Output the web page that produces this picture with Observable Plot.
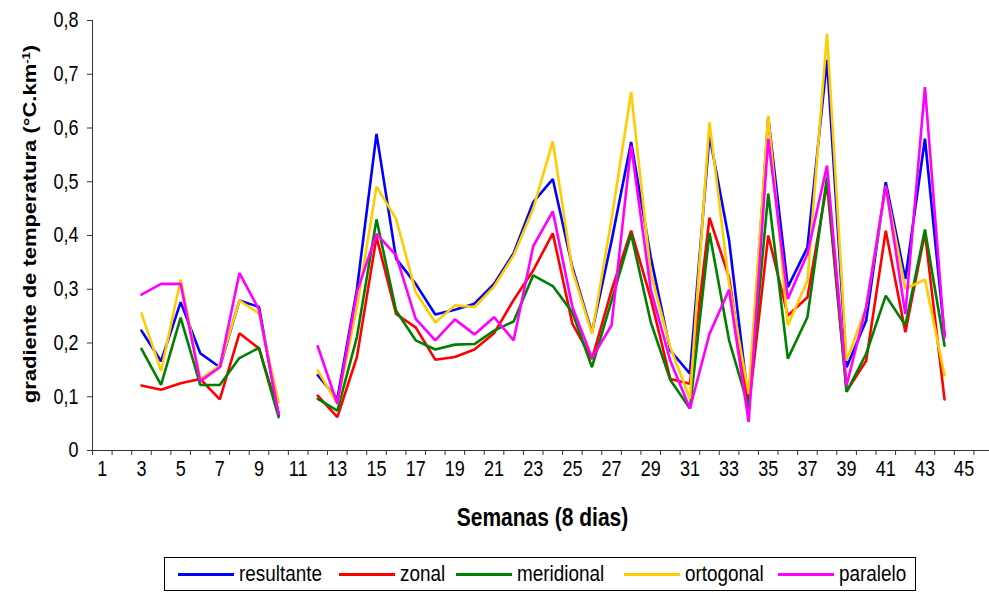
<!DOCTYPE html>
<html><head><meta charset="utf-8">
<script src="https://cdn.jsdelivr.net/npm/d3@7"></script>
<script src="https://cdn.jsdelivr.net/npm/@observablehq/plot@0.6"></script>
<style>
html,body{margin:0;padding:0;background:#fff;}
#wrap{position:relative;width:989px;height:592px;overflow:hidden;background:#fff;}
#legend{position:absolute;left:164px;top:557px;width:750px;height:32px;border:1px solid #000;box-sizing:content-box;color:#000;}
.item{display:flex;align-items:center;white-space:nowrap;}
.sw{width:56px;height:3px;margin-right:5px;}
.lt{display:inline-block;transform:scaleY(1.2);transform-origin:50% 55%;}
</style></head><body><div id="wrap"><div id="chart"></div><div id="legend"></div></div>
<script>
// ---- data ----
const weeks = [3,4,5,6,7,8,9,10,11,12,13,14,15,16,17,18,19,20,21,22,23,24,25,26,27,28,29,30,31,32,33,34,35,36,37,38,39,40,41,42,43,44];
const resultante = [0.223,0.166,0.276,0.181,0.155,0.279,0.267,0.065,null,0.140,0.096,0.300,0.589,0.357,0.310,0.253,0.262,0.273,0.310,0.367,0.462,0.505,0.341,0.220,0.390,0.574,0.360,0.186,0.143,0.586,0.391,0.087,0.620,0.304,0.378,0.727,0.155,0.242,0.499,0.319,0.580,0.215];
const zonal = [0.121,0.113,0.125,0.133,0.095,0.218,0.190,0.070,null,0.102,0.062,0.174,0.397,0.254,0.229,0.169,0.174,0.188,0.218,0.280,0.335,0.404,0.236,0.170,0.298,0.409,0.283,0.133,0.124,0.433,0.322,0.078,0.400,0.251,0.285,0.496,0.110,0.167,0.409,0.220,0.405,0.095];
const meridional = [0.189,0.122,0.247,0.122,0.122,0.172,0.191,0.062,null,0.096,0.074,0.211,0.430,0.260,0.205,0.188,0.197,0.198,0.223,0.240,0.326,0.306,0.257,0.155,0.279,0.403,0.239,0.131,0.078,0.405,0.205,0.080,0.478,0.171,0.248,0.509,0.109,0.180,0.288,0.233,0.411,0.195];
const ortogonal = [0.255,0.148,0.318,0.133,0.158,0.279,0.255,0.090,null,0.149,0.087,0.267,0.491,0.431,0.295,0.238,0.270,0.267,0.305,0.363,0.450,0.575,0.335,0.217,0.430,0.667,0.330,0.192,0.096,0.611,0.310,0.105,0.623,0.233,0.316,0.775,0.167,0.267,0.490,0.301,0.318,0.140];
const paralelo = [0.290,0.310,0.310,0.129,0.155,0.330,0.262,0.068,null,0.194,0.087,0.295,0.403,0.363,0.245,0.205,0.244,0.216,0.248,0.205,0.380,0.445,0.267,0.172,0.233,0.567,0.300,0.167,0.078,0.217,0.299,0.053,0.580,0.282,0.366,0.530,0.121,0.267,0.493,0.254,0.676,0.210];
const seriesNames = ["resultante","zonal","meridional","ortogonal","paralelo"];
const seriesColors = ["#0000FF","#FF0000","#008000","#FFCC00","#FF00FF"];
const yTicks = [0,0.1,0.2,0.3,0.4,0.5,0.6,0.7,0.8];
const xLabels = [1,3,5,7,9,11,13,15,17,19,21,23,25,27,29,31,33,35,37,39,41,43,45];
const xTitle = "Semanas (8 dias)";
const yTitle = "gradiente de temperatura (°C.km";

const FF = "'Liberation Sans', Arial, sans-serif";
const SY = 1.2; // vertical stretch of the reference lettering
const tickFS = 18, legFS = 18.9, titleFS = 21, yTitleFS = 18.3;

const dataBy = {resultante, zonal, meridional, ortogonal, paralelo};
const rows = s => weeks.map((w,i)=>({week:w, value:dataBy[s][i]}));
const fmt = d => d===0 ? "0" : d3.format(".1f")(d).replace(".", ",");
const xTickPos = d3.range(0.5, 47, 1);

const svg = Plot.plot({
  width: 989, height: 552,
  marginLeft: 92, marginRight: 0, marginTop: 20, marginBottom: 102,
  x: {type: "linear", domain: [0.5, 46.5], range: [92, 993]},
  y: {type: "linear", domain: [0, 0.8], range: [450, 20]},
  style: {fontFamily: FF, fontSize: tickFS + "px", color: "#000", background: "#fff", overflow: "hidden"},
  marks: [
    Plot.axisY({ticks: yTicks, tickSize: 5, tickPadding: 9, tickFormat: fmt, label: null, stroke: "#333", fill: "#000", fontSize: tickFS}),
    Plot.axisX({ticks: xTickPos, tickSize: 5, tickFormat: () => "", label: null, stroke: "#333"}),
    Plot.axisX({ticks: xLabels, tickSize: 0, tickPadding: 10, tickFormat: d => String(d), label: null, fill: "#000", fontSize: tickFS}),
    Plot.ruleY([0], {x1: 0.5, x2: 46.5, stroke: "#333"}),
    Plot.ruleX([0.5], {y1: 0, y2: 0.8, stroke: "#333"}),
    ...seriesNames.map((s, i) => Plot.lineY(rows(s), {x: "week", y: "value", stroke: seriesColors[i], strokeWidth: 2.6, strokeLinejoin: "miter", curve: "linear"}))
  ]
});
document.getElementById("chart").appendChild(svg);

const sel = d3.select(svg);
// stretch tick labels vertically like the reference lettering
sel.selectAll("g[aria-label$='tick label'] text").each(function() {
  const t = this.getAttribute("transform") || "";
  this.setAttribute("transform", t + ` scale(1,${SY})`);
  if (this.getAttribute("dy") === "0.32em") this.setAttribute("dy", "0.36em");
});

sel.append("text")
  .attr("transform", `translate(542.5,526) scale(1,${SY})`)
  .attr("text-anchor", "middle")
  .attr("font-family", FF).attr("font-weight", "bold").attr("font-size", titleFS)
  .attr("fill", "#000").text(xTitle);
const yt = sel.append("text")
  .attr("transform", `translate(36,224) rotate(-90) scale(${SY},1)`)
  .attr("text-anchor", "middle")
  .attr("font-family", FF).attr("font-weight", "bold").attr("font-size", yTitleFS)
  .attr("fill", "#000");
yt.append("tspan").text(yTitle);
yt.append("tspan").attr("baseline-shift", "super").attr("font-size", yTitleFS*0.6).text("-1");
yt.append("tspan").text(")");

// legend
const leg = d3.select("#legend").style("font-family", FF).style("font-size", legFS + "px");
const legLeft = [13, 174, 291, 459, 613];
seriesNames.forEach((s, i) => {
  const it = leg.append("div").attr("class", "item")
    .style("position", "absolute").style("left", legLeft[i] + "px").style("top", "0").style("height", "32px");
  it.append("div").attr("class", "sw").style("background", seriesColors[i]);
  it.append("span").attr("class", "lt").text(s);
});
</script>
</body></html>
